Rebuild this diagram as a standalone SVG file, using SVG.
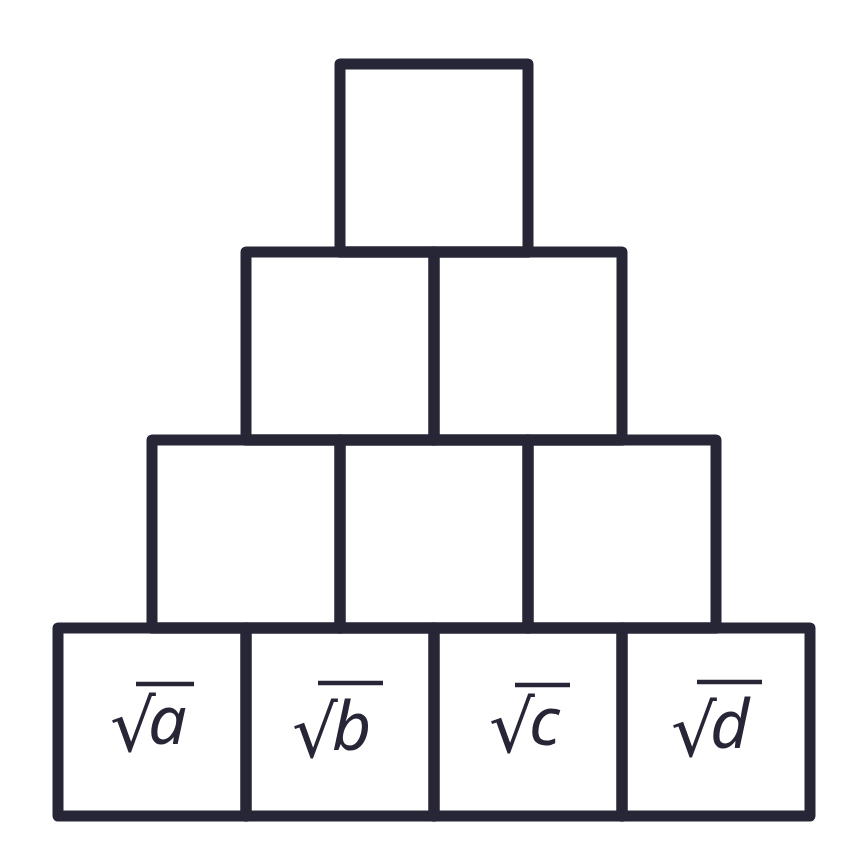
<svg xmlns="http://www.w3.org/2000/svg" width="842" height="842" viewBox="0 0 842 842">
<style>
.cell{fill:none;stroke:#262637;stroke-width:11;stroke-linejoin:round}
.lbl{fill:#262637}
.rad{font-family:"Noto Sans","DejaVu Sans",sans-serif;font-size:72px}
.var{font-family:"Noto Sans","Open Sans",sans-serif;font-style:italic;font-size:68px}
.bar{stroke:#262637;stroke-width:4.5;stroke-linecap:butt}
</style>
<rect width="842" height="842" fill="#fff"/>
<g id="top"><rect class="cell" x="340" y="64" width="188" height="188"/></g>
<g id="r2c1"><rect class="cell" x="246" y="252" width="188" height="188"/></g>
<g id="r2c2"><rect class="cell" x="434" y="252" width="188" height="188"/></g>
<g id="r3c1"><rect class="cell" x="152" y="440" width="188" height="188"/></g>
<g id="r3c2"><rect class="cell" x="340" y="440" width="188" height="188"/></g>
<g id="r3c3"><rect class="cell" x="528" y="440" width="188" height="188"/></g>
<g id="b1"><rect class="cell" x="58" y="628" width="188" height="188"/>
<text class="lbl"><tspan class="rad" x="110" y="751">√</tspan><tspan class="var" x="148" y="744">a</tspan></text><line class="bar" x1="136" y1="684" x2="194" y2="684"/></g>
<g id="b2"><rect class="cell" x="246" y="628" width="188" height="188"/>
<text class="lbl"><tspan class="rad" x="292" y="757">√</tspan><tspan class="var" x="332" y="750">b</tspan></text><line class="bar" x1="318" y1="683" x2="383" y2="683"/></g>
<g id="b3"><rect class="cell" x="434" y="628" width="188" height="188"/>
<text class="lbl"><tspan class="rad" x="489" y="752">√</tspan><tspan class="var" x="529" y="745">c</tspan></text><line class="bar" x1="515" y1="685" x2="570" y2="685"/></g>
<g id="b4"><rect class="cell" x="622" y="628" width="188" height="188"/>
<text class="lbl"><tspan class="rad" x="671" y="756">√</tspan><tspan class="var" x="710" y="748">d</tspan></text><line class="bar" x1="697" y1="682" x2="762" y2="682"/></g>
<g id="connectors"></g>
</svg>
